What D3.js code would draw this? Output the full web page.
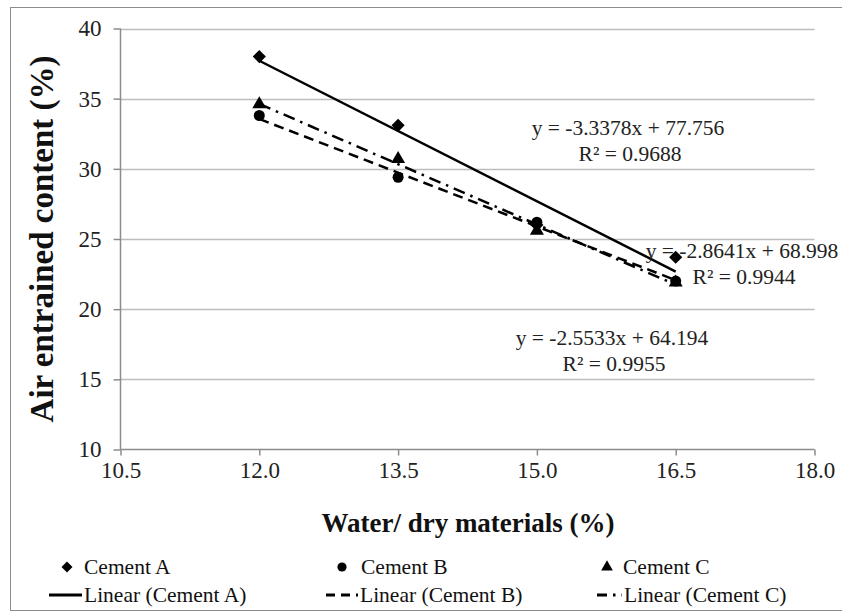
<!DOCTYPE html>
<html>
<head>
<meta charset="utf-8">
<script src="https://cdn.jsdelivr.net/npm/d3@7"></script>
<style>
  html, body { margin: 0; padding: 0; background: #fff; }
  svg text { font-family: "Liberation Serif", "Times New Roman", Tinos, Times, serif; }
</style>
</head>
<body>
<svg id="chart" width="842" height="612"></svg>
<script>
// Water / dry materials ratio (%) for each mix
const xValues = [12.0, 13.5, 15.0, 16.5];

// Air entrained content (%) for each cement
const cementA = [38.0, 33.1, 26.0, 23.7];
const cementB = [33.8, 29.4, 26.2, 22.0];
const cementC = [34.6, 30.7, 25.6, 21.9];

// Linear trendlines: [slope, intercept, R²]
const fitA = [-3.3378, 77.756, 0.9688];
const fitB = [-2.5533, 64.194, 0.9955];
const fitC = [-2.8641, 68.998, 0.9944];

const xTicks = [10.5, 12.0, 13.5, 15.0, 16.5, 18.0];
const yTicks = [10, 15, 20, 25, 30, 35, 40];

const seriesNames = ["Cement A", "Cement B", "Cement C"];

const svg = d3.select("#chart");

const x = d3.scaleLinear().domain([10.5, 18.0]).range([120.5, 814.5]);
const y = d3.scaleLinear().domain([10, 40]).range([449.5, 28.5]);

// outer frame
svg.append("rect")
  .attr("x", 10.5).attr("y", 7.5)
  .attr("width", 840).attr("height", 603)
  .attr("fill", "#fff").attr("stroke", "#8c8c8c").attr("stroke-width", 1);

// horizontal gridlines
svg.append("g")
  .selectAll("line")
  .data(yTicks.filter(d => d !== 10))
  .join("line")
  .attr("x1", x(10.5)).attr("x2", x(18.0))
  .attr("y1", d => Math.round(y(d)) + 0.5).attr("y2", d => Math.round(y(d)) + 0.5)
  .attr("stroke", "#bdbdbd").attr("stroke-width", 1.5);

// axes
const yAxis = d3.axisLeft(y).tickValues(yTicks).tickSize(7).tickPadding(12)
  .tickFormat(d3.format("d"));
const xAxis = d3.axisBottom(x).tickValues(xTicks).tickSize(6).tickPadding(6)
  .tickFormat(d3.format(".1f"));

const gy = svg.append("g").attr("transform", `translate(${x(10.5)},0)`).call(yAxis);
const gx = svg.append("g").attr("transform", `translate(0,${y(10)})`).call(xAxis);

[gx, gy].forEach(g => {
  g.attr("font-family", null).attr("font-size", 23);
  g.selectAll("path.domain").attr("stroke", "#8c8c8c").attr("stroke-width", 1.5);
  g.selectAll(".tick line").attr("stroke", "#8c8c8c").attr("stroke-width", 1.5);
  g.selectAll(".tick text").attr("fill", "#222");
});
gy.select("path.domain").attr("d", `M0,${y(40)}V${y(10)}`);
gx.select("path.domain").attr("d", `M${x(10.5)},0H${x(18.0)}`);

// axis titles
svg.append("text")
  .attr("x", 468).attr("y", 532)
  .attr("text-anchor", "middle")
  .attr("font-size", 27).attr("font-weight", "bold")
  .attr("fill", "#111")
  .text("Water/ dry materials (%)");

svg.append("text")
  .attr("transform", "translate(53,239) rotate(-90)")
  .attr("text-anchor", "middle")
  .attr("font-size", 33).attr("font-weight", "bold")
  .attr("fill", "#111")
  .text("Air entrained content (%)");

// trendlines drawn from the stated coefficients
const fits = [
  { fit: fitA, dash: null },
  { fit: fitB, dash: "10,6" },
  { fit: fitC, dash: "12,6,2.5,6" }
];
const line = d3.line().x(d => x(d[0])).y(d => y(d[1]));
svg.append("g")
  .selectAll("path")
  .data(fits)
  .join("path")
  .attr("d", f => line([xValues[0], xValues[xValues.length - 1]].map(v => [v, f.fit[0] * v + f.fit[1]])))
  .attr("fill", "none")
  .attr("stroke", "#000")
  .attr("stroke-width", 2.5)
  .attr("stroke-dasharray", f => f.dash);

// markers
const symbolTypes = [d3.symbolDiamond2, d3.symbolCircle, d3.symbolTriangle];
const symbolSizes = [110, 95, 85];
const allSeries = [cementA, cementB, cementC];

allSeries.forEach((vals, i) => {
  svg.append("g")
    .selectAll("path")
    .data(vals.map((v, j) => [xValues[j], v]))
    .join("path")
    .attr("transform", d => `translate(${x(d[0])},${y(d[1])})`)
    .attr("d", d3.symbol().type(symbolTypes[i]).size(symbolSizes[i]))
    .attr("fill", "#000");
});

// trendline equations
function fmtEq(f) {
  const s = f[0] < 0 ? "-" + Math.abs(f[0]).toFixed(4) : f[0].toFixed(4);
  return `y = ${s}x + ${f[1].toFixed(3)}`;
}
const labels = [
  { fit: fitA, cx: 628, y1: 135, y2: 161 },
  { fit: fitC, cx: 742, y1: 258, y2: 284 },
  { fit: fitB, cx: 612, y1: 345, y2: 371 }
];
labels.forEach(l => {
  svg.append("text").attr("x", l.cx).attr("y", l.y1).attr("text-anchor", "middle")
    .attr("font-size", 21.5).attr("fill", "#222").text(fmtEq(l.fit));
  svg.append("text").attr("x", l.cx + 2).attr("y", l.y2).attr("text-anchor", "middle")
    .attr("font-size", 21.5).attr("fill", "#222").text(`R² = ${l.fit[2].toFixed(4)}`);
});

// legend
const legendMarkX = [67, 342, 607];
const legendTextX = [84, 361, 623];
const legendLineX = [[49, 82], [326, 358], [597, 622]];
const legendDash = [null, "9,6", "10,6,2.5,6"];
const legend = svg.append("g").attr("font-size", 21.5).attr("fill", "#111");
seriesNames.forEach((name, i) => {
  const cx = legendMarkX[i];
  legend.append("path")
    .attr("transform", `translate(${cx},${567})`)
    .attr("d", d3.symbol().type(symbolTypes[i]).size(symbolSizes[i] * 0.7))
    .attr("fill", "#000");
  legend.append("text").attr("x", legendTextX[i]).attr("y", 574).text(name);

  const [lx1, lx2] = legendLineX[i];
  legend.append("line")
    .attr("x1", lx1).attr("x2", lx2)
    .attr("y1", 595).attr("y2", 595)
    .attr("stroke", "#000").attr("stroke-width", 3)
    .attr("stroke-dasharray", legendDash[i]);
  legend.append("text").attr("x", lx2 + 2).attr("y", 602).text(`Linear (${name})`);
});
</script>
</body>
</html>
